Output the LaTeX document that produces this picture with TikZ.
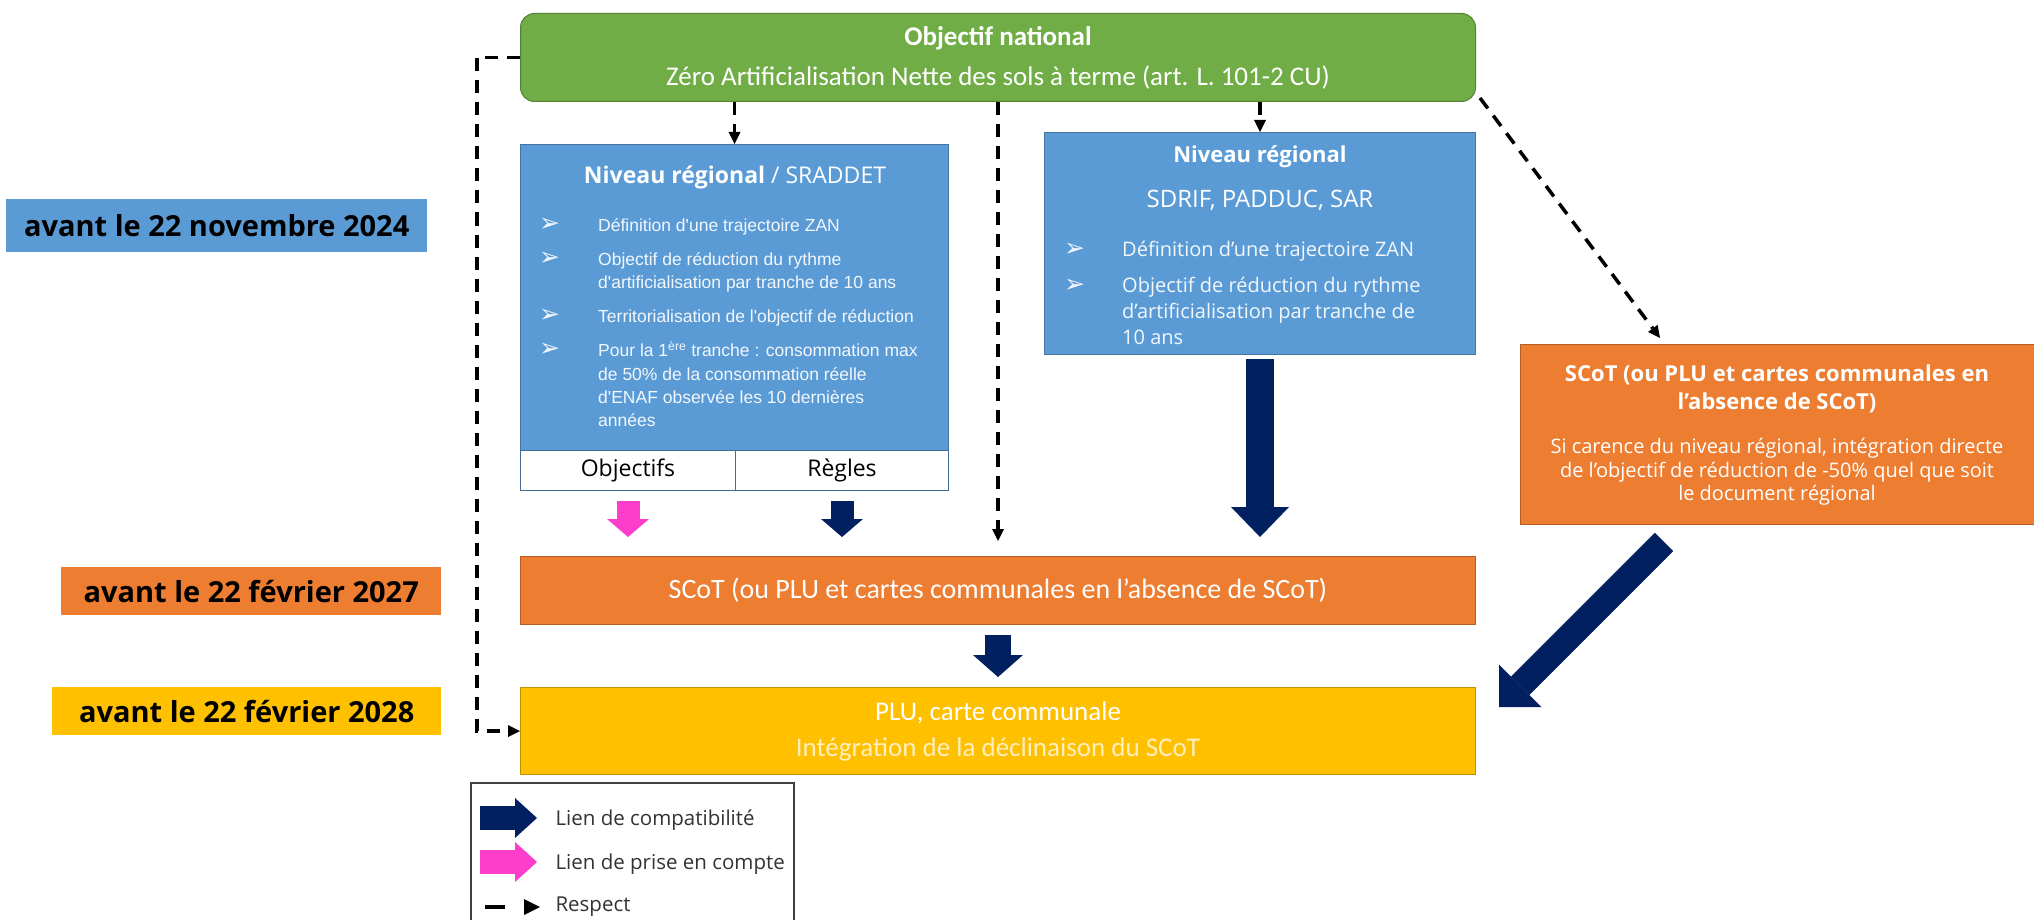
\documentclass[tikz,border=0pt]{standalone}
\usepackage{fontspec}
\setmainfont{Open Sans}
\newfontfamily\calib{Carlito}
\newfontfamily\arial{Liberation Sans}
\newfontfamily\dejavu{DejaVu Sans}
\usepackage{tikz}
\usetikzlibrary{arrows.meta,positioning}

\definecolor{vert}{HTML}{70AD47}
\definecolor{bleu}{HTML}{5B9BD5}
\definecolor{orangeF}{HTML}{ED7D31}
\definecolor{jaune}{HTML}{FFC000}
\definecolor{marine}{HTML}{002060}
\definecolor{rose}{HTML}{FF3DCB}

\newcommand{\taille}[2]{\fontsize{#1}{#2}\selectfont}
\newcommand{\puce}{{\dejavu\taille{25}{25}➢}}

\tikzset{
  boite/.style={draw=#1!75!black, fill=#1, line width=1pt, inner sep=0pt, anchor=north west},
  date/.style={fill=#1, inner sep=0pt, anchor=north west, font=\bfseries\taille{29}{34}},
  respect/.style={line width=3.5pt, dash pattern=on 13pt off 9pt, -{Triangle[length=12pt,width=12pt,line width=0pt]}},
  bloc/.style n args={4}{draw=#1, line width=#2, -{Triangle[width=#3,length=#4,line width=0pt]}},
}

\begin{document}
\begin{tikzpicture}[x=1pt,y=-1pt]
    \useasboundingbox[fill=white] (0,0) rectangle (2034,920);
    % echeances
    \node[date=bleu, minimum width=421pt, minimum height=53pt] (nov24) at (6,199) {avant le 22 novembre 2024};
    \node[date=orangeF, minimum width=380pt, minimum height=48pt] (fev27) at (61,567) {avant le 22 février 2027};
    \node[date=jaune, minimum width=389pt, minimum height=48pt] (fev28) at (52,687) {avant le 22 février 2028};

    % boites
    \node[boite=vert, rounded corners=14pt, minimum width=955pt, minimum height=88pt, align=center, text=white,
          font=\calib\taille{27}{40}] (nat) at (520,13)
          {\bfseries Objectif national\\Zéro Artificialisation Nette des sols à terme (art. L. 101-2 CU)};
    \node[boite=bleu, minimum width=428pt, minimum height=306pt] (sraddet) at (520,144) {};
    \node[boite=white, draw=bleu!70!black, minimum width=215pt, minimum height=40pt, font=\taille{23}{28}] (obj) at (520,450) {Objectifs};
    \node[boite=white, draw=bleu!70!black, minimum width=213pt, minimum height=40pt, font=\taille{23}{28}] (regl) at (735,450) {Règles};
    \node[boite=bleu, minimum width=431pt, minimum height=222pt] (sdrif) at (1044,132) {};
    \node[boite=orangeF, minimum width=514pt, minimum height=180pt] (scotr) at (1520,344) {};
    \node[boite=orangeF, minimum width=955pt, minimum height=68pt, text=white, font=\calib\taille{28}{34}] (scot) at (520,556)
          {SCoT (ou PLU et cartes communales en l’absence de SCoT)};
    \node[boite=jaune, minimum width=955pt, minimum height=87pt, align=center, text=white, font=\calib\taille{27}{36}] (plu) at (520,687)
          {PLU, carte communale\\{\color{white!75!jaune}Intégration de la déclinaison du SCoT}};
    \node[draw=black!75, line width=1.5pt, minimum width=323pt, minimum height=145pt, anchor=north west] (legende) at (470,782) {};

    % textes
    \node[font=\bfseries\taille{23}{28}, white] (sraddet-titre) at (735,177) {Niveau régional {\mdseries / SRADDET}};
    \node[font=\arial\taille{17.5}{23.3}, white!92!bleu, anchor=base west, inner sep=0pt] (sraddet-liste) at (539,231.5)
    {\begin{tabular}[t]{@{}p{59pt}@{}l@{}}
      \puce & Définition d'une trajectoire ZAN\\[10.7pt]
      \puce & Objectif de réduction du rythme\\
            & d'artificialisation par tranche de 10 ans\\[10.7pt]
      \puce & Territorialisation de l'objectif de réduction\\[10.7pt]
      \puce & Pour la 1\textsuperscript{ère} tranche : consommation max\\
            & de 50\% de la consommation réelle\\
            & d'ENAF observée les 10 dernières\\
            & années
    \end{tabular}};
    \node[font=\bfseries\taille{22}{28}, white] (sdrif-titre) at (1260,157) {Niveau régional};
    \node[font=\taille{24}{28}, white] (sdrif-docs) at (1260,200) {SDRIF, PADDUC, SAR};
    \node[font=\taille{20}{26}, white!92!bleu, anchor=base west, inner sep=0pt] (sdrif-liste) at (1064,256)
    {\begin{tabular}[t]{@{}p{58pt}@{}l@{}}
      \puce & Définition d’une trajectoire ZAN\\[10pt]
      \puce & Objectif de réduction du rythme\\
            & d’artificialisation par tranche de\\
            & 10 ans
    \end{tabular}};
    \node[font=\bfseries\taille{22}{28}, white, align=center] (scotr-titre) at (1777,389)
          {SCoT (ou PLU et cartes communales en\\l’absence de SCoT)};
    \node[font=\taille{20}{23.5}, white, align=center] (scotr-texte) at (1777,472)
          {Si carence du niveau régional, intégration directe\\de l’objectif de réduction de -50\% quel que soit\\le document régional};

    % liens de respect
    \draw[respect] (nat.south -| sraddet.north) -- (sraddet.north);
    \draw[respect] (nat.south) -- ([yshift=15pt]scot.north);
    \draw[respect] (nat.south -| sdrif.north) -- (sdrif.north);
    \draw[respect] ([shift={(4,-4)}]nat.south east) -- ([shift={(140,-6)}]scotr.north west);
    \draw[respect] (nat.west) -- ++(-43,0) |- (plu.west);

    % liens de compatibilite / prise en compte
    \draw[bloc={rose}{23pt}{42pt}{18pt}] ([yshift=-10pt]obj.south) -- ([yshift=19pt]obj.south |- scot.north);
    \draw[bloc={marine}{23pt}{42pt}{18pt}] ([yshift=-10pt]regl.south) -- ([yshift=19pt]regl.south |- scot.north);
    \draw[bloc={marine}{28pt}{58pt}{30pt}] ([yshift=-4pt]sdrif.south) -- ([yshift=19pt]sdrif.south |- scot.north);
    \draw[bloc={marine}{26pt}{50pt}{22pt}] ([yshift=-10pt]scot.south) -- ([yshift=10pt]plu.north);
    \draw[bloc={marine}{26pt}{60pt}{30pt}] ([shift={(144,17)}]scotr.south west) -- ([shift={(23,-24)}]plu.east);

    % legende
    \draw[bloc={marine}{24pt}{40pt}{22pt}] ([shift={(10,36)}]legende.north west) -- ++(57,0);
    \draw[bloc={rose}{24pt}{40pt}{22pt}] ([shift={(10,80)}]legende.north west) -- ++(57,0);
    \draw[respect, dash pattern=on 20pt off 30pt, -{Triangle[length=16pt,width=16pt,line width=0pt]}]
          ([shift={(15,125)}]legende.north west) -- ++(55,0);
    \node[anchor=west, font=\taille{20.5}{24}, black!80] (lg-compat) at (552,820) {Lien de compatibilité};
    \node[anchor=west, font=\taille{20.5}{24}, black!80] (lg-prise) at (552,864) {Lien de prise en compte};
    \node[anchor=west, font=\taille{20.5}{24}, black!80] (lg-respect) at (552,907) {Respect};
\end{tikzpicture}
\end{document}
